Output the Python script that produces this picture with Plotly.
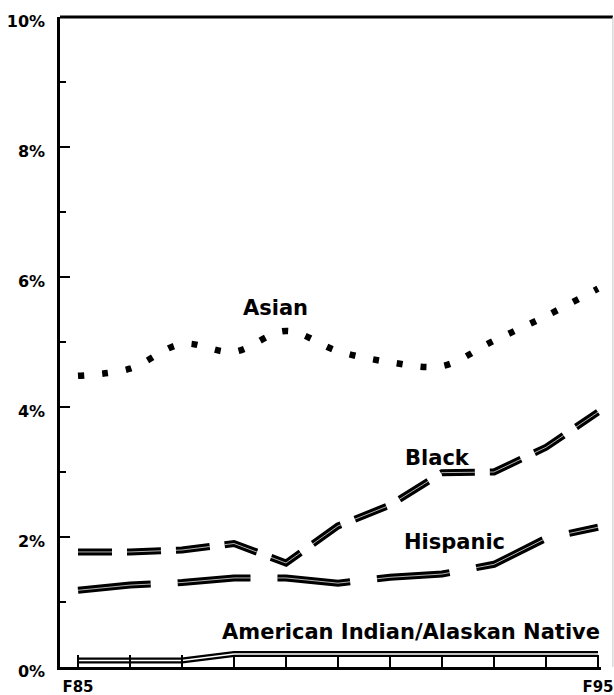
import plotly.graph_objects as go

# Fall enrollment share by group, F85 through F95 (percent)
years = [1985, 1986, 1987, 1988, 1989, 1990, 1991, 1992, 1993, 1994, 1995]
asian = [4.48, 4.59, 4.97, 4.85, 5.17, 4.86, 4.69, 4.63, 5.02, 5.40, 5.82]
black = [1.77, 1.77, 1.80, 1.90, 1.60, 2.17, 2.49, 2.99, 3.00, 3.38, 3.92]
hispanic = [1.18, 1.26, 1.30, 1.37, 1.37, 1.29, 1.38, 1.43, 1.58, 1.98, 2.15]
am_indian = [0.10, 0.10, 0.10, 0.20, 0.20, 0.20, 0.20, 0.20, 0.20, 0.20, 0.20]

x_ticktext = ["F85", "", "", "", "", "", "", "", "", "", "F95"]
y_tickvals = [0, 2, 4, 6, 8, 10]
y_ticktext = ["0%", "2%", "4%", "6%", "8%", "10%"]

FONT = "DejaVu Sans"

fig = go.Figure()


def outlined(y, dash, width=6, inner=1.0, shape="linear"):
    """Thick black stroke with a thin white core, as on the printed chart."""
    fig.add_trace(go.Scatter(
        x=years, y=y, mode="lines",
        line=dict(color="black", width=width, dash=dash, shape=shape),
        hoverinfo="skip", showlegend=False))
    if inner:
        fig.add_trace(go.Scatter(
            x=years, y=y, mode="lines",
            line=dict(color="white", width=inner, dash=dash, shape=shape),
            hoverinfo="skip", showlegend=False))


outlined(asian, "6px,18px", width=6.5, inner=0, shape="spline")
outlined(black, "34px,15px", width=7, inner=0.7)
outlined(hispanic, "73px,27px", width=7, inner=0.7)
outlined(am_indian, "solid", width=6, inner=1.6)

labels = [
    ("Asian", 1988.79, 5.52),
    ("Black", 1991.92, 3.21),
    ("Hispanic", 1992.25, 1.93),
    ("American Indian/Alaskan Native", 1991.40, 0.54),
]
for text, lx, ly in labels:
    fig.add_annotation(x=lx, y=ly, text=text, showarrow=False,
                       xanchor="center", yanchor="middle",
                       font=dict(family=FONT, size=21, color="black", weight=700))

# top border running out to the page edge, faint right edge
fig.add_shape(type="line", xref="paper", yref="paper", x0=0, x1=1.022, y0=1, y1=1,
              line=dict(color="black", width=3))
fig.add_shape(type="line", xref="paper", yref="paper", x0=1.022, x1=1.022, y0=0, y1=1,
              line=dict(color="#c8c8c8", width=1))

fig.update_layout(
    width=614, height=695,
    margin=dict(l=60, r=13, t=17, b=28),
    paper_bgcolor="white", plot_bgcolor="white",
    showlegend=False,
    font=dict(family=FONT, size=16, color="black", weight=700),
)
fig.update_xaxes(
    range=[1984.654, 1995.058], automargin=False,
    tickvals=years, ticktext=x_ticktext,
    ticks="inside", ticklen=12, tickwidth=1.5, tickcolor="black",
    ticklabelstandoff=4, ticklabeloverflow="allow",
    showline=True, linecolor="black", linewidth=2.5,
    showgrid=False, zeroline=False,
    tickfont=dict(family=FONT, size=15, color="black", weight=700),
)
fig.update_yaxes(
    range=[0, 10], automargin=False,
    tickvals=y_tickvals, ticktext=y_ticktext,
    ticks="inside", ticklen=10, tickwidth=1.5, tickcolor="black",
    ticklabelstandoff=9, ticklabelshift=4, ticklabeloverflow="allow",
    minor=dict(dtick=1, ticks="inside", ticklen=6, tickwidth=1.5, tickcolor="black"),
    showline=True, linecolor="black", linewidth=2.5,
    showgrid=False, zeroline=False,
    tickfont=dict(family=FONT, size=16, color="black", weight=700),
)

fig.write_html("out.html")
